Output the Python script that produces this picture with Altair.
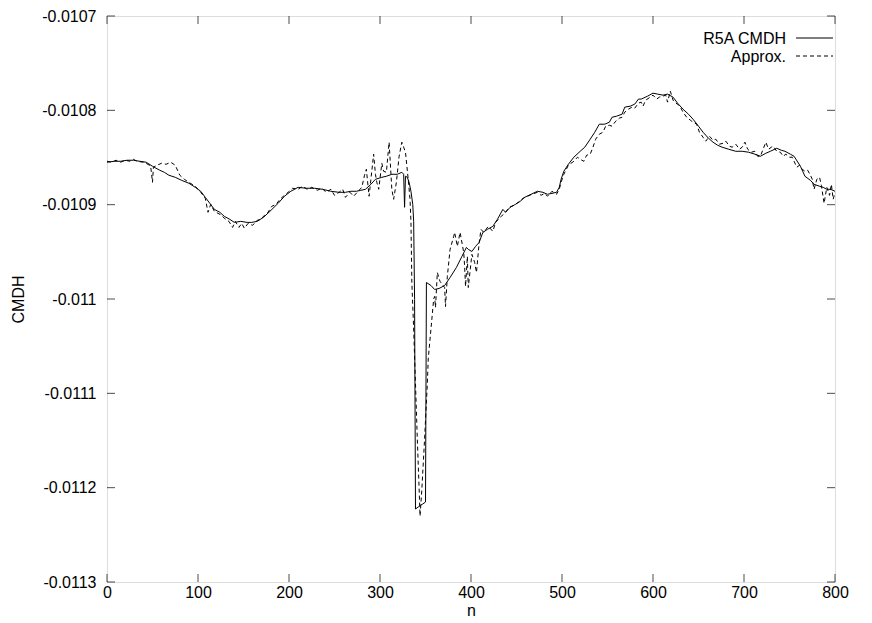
import altair as alt
import pandas as pd

series_names = ["R5A CMDH", "Approx."]

cmdh_n = [0, 8, 15, 22, 29, 36, 43, 50, 58, 63, 68, 75, 82, 90, 97, 103, 108, 113, 118, 124,
          129, 135, 140, 147, 154, 159, 165, 172, 179, 188, 195, 202, 210, 219, 228, 237, 246, 255, 262, 268,
          274, 279, 284, 290, 295, 302, 307, 313, 319, 324, 326, 327, 328, 330, 332, 334, 336, 337, 338, 339,
          342, 345, 347, 350, 351, 356, 360, 365, 371, 377, 384, 390, 395, 397, 401, 405, 409, 413, 418, 424,
          429, 435, 438, 443, 449, 454, 459, 466, 473, 479, 484, 489, 494, 497, 499, 502, 507, 513, 520, 525,
          531, 536, 541, 547, 552, 555, 560, 566, 569, 575, 580, 584, 587, 594, 600, 605, 611, 616, 622, 627,
          633, 639, 644, 650, 655, 661, 666, 671, 676, 683, 691, 698, 705, 712, 718, 724, 729, 736, 741, 745,
          751, 755, 762, 767, 773, 777, 783, 787, 791, 795, 800]
cmdh_v = [-0.0108550, -0.0108540, -0.0108540, -0.0108529, -0.0108529, -0.0108540, -0.0108550, -0.0108593, -0.0108635, -0.0108657,
          -0.0108688, -0.0108710, -0.0108742, -0.0108773, -0.0108816, -0.0108858, -0.0108922, -0.0108986, -0.0109050, -0.0109081,
          -0.0109124, -0.0109156, -0.0109188, -0.0109177, -0.0109188, -0.0109188, -0.0109177, -0.0109134, -0.0109071, -0.0108986,
          -0.0108911, -0.0108858, -0.0108816, -0.0108826, -0.0108826, -0.0108837, -0.0108858, -0.0108869, -0.0108869, -0.0108858,
          -0.0108858, -0.0108848, -0.0108837, -0.0108784, -0.0108731, -0.0108710, -0.0108699, -0.0108678, -0.0108678, -0.0108657,
          -0.0108678, -0.0109028, -0.0108699, -0.0108710, -0.0108763, -0.0108858, -0.0108996, -0.0109177, -0.0110005, -0.0112226,
          -0.0112205, -0.0112184, -0.0112173, -0.0112152, -0.0109825, -0.0109857, -0.0109899, -0.0109888, -0.0109857, -0.0109772,
          -0.0109665, -0.0109549, -0.0109453, -0.0109474, -0.0109496, -0.0109442, -0.0109400, -0.0109294, -0.0109262, -0.0109230,
          -0.0109156, -0.0109050, -0.0109081, -0.0109028, -0.0108996, -0.0108965, -0.0108922, -0.0108890, -0.0108858, -0.0108869,
          -0.0108890, -0.0108880, -0.0108869, -0.0108816, -0.0108731, -0.0108646, -0.0108572, -0.0108497, -0.0108434, -0.0108391,
          -0.0108306, -0.0108232, -0.0108147, -0.0108147, -0.0108126, -0.0108073, -0.0108062, -0.0108041, -0.0107966, -0.0107956,
          -0.0107934, -0.0107881, -0.0107881, -0.0107850, -0.0107818, -0.0107828, -0.0107839, -0.0107828, -0.0107860, -0.0107924,
          -0.0107988, -0.0108041, -0.0108094, -0.0108168, -0.0108232, -0.0108296, -0.0108338, -0.0108370, -0.0108391, -0.0108412,
          -0.0108434, -0.0108434, -0.0108444, -0.0108465, -0.0108487, -0.0108455, -0.0108434, -0.0108402, -0.0108423, -0.0108434,
          -0.0108465, -0.0108487, -0.0108593, -0.0108699, -0.0108742, -0.0108784, -0.0108805, -0.0108816, -0.0108837, -0.0108837,
          -0.0108858]

approx_n = [0, 5, 10, 15, 20, 25, 29, 33, 40, 45, 48, 50, 51, 55, 60, 65, 70, 75, 80, 85,
            90, 97, 103, 108, 111, 114, 118, 122, 126, 129, 134, 138, 141, 145, 148, 151, 155, 160, 165, 169,
            173, 177, 181, 186, 190, 195, 199, 204, 210, 215, 220, 225, 231, 236, 241, 246, 250, 255, 259, 262,
            267, 271, 276, 280, 283, 285, 288, 290, 293, 295, 296.5, 298.6, 302, 304, 307, 310, 313, 315, 318, 321,
            324, 326, 328, 331, 333, 334, 335, 337, 339, 341, 343, 344, 346, 349, 352, 353, 356, 359, 360, 361,
            363, 366, 371, 372, 374, 377, 381, 382, 385, 388, 392, 393, 394, 396, 397, 401, 404, 406, 409, 411,
            414, 419, 424, 427, 432, 437, 442, 447, 452, 457, 462, 467, 473, 477, 481, 484, 489, 494, 497, 499,
            502, 507, 513, 517, 520, 524, 527, 531, 534, 537, 541, 545, 548, 552, 555, 559, 563, 566, 569, 573,
            577, 580, 584, 587, 589, 592, 597, 600, 604, 607, 611, 614, 616, 619, 622, 625, 627, 630, 633, 637,
            641, 644, 648, 651, 655, 658, 662, 666, 669, 673, 677, 680, 684, 687, 691, 695, 698, 701, 704, 708,
            712, 715, 718, 721, 724, 727, 730, 732, 736, 740, 743, 746, 750, 753, 755, 758, 761, 764, 767, 770,
            773, 775, 777, 780, 783, 785, 788, 791, 794, 796, 798, 800]
approx_v = [-0.0108540, -0.0108550, -0.0108529, -0.0108550, -0.0108529, -0.0108540, -0.0108519, -0.0108540, -0.0108550, -0.0108572,
            -0.0108593, -0.0108763, -0.0108603, -0.0108582, -0.0108561, -0.0108572, -0.0108550, -0.0108582, -0.0108688, -0.0108731,
            -0.0108763, -0.0108805, -0.0108869, -0.0108933, -0.0109081, -0.0108996, -0.0109071, -0.0109092, -0.0109113, -0.0109145,
            -0.0109177, -0.0109241, -0.0109177, -0.0109241, -0.0109198, -0.0109251, -0.0109198, -0.0109219, -0.0109166, -0.0109156,
            -0.0109113, -0.0109081, -0.0109018, -0.0108996, -0.0108943, -0.0108901, -0.0108869, -0.0108826, -0.0108837, -0.0108805,
            -0.0108837, -0.0108816, -0.0108848, -0.0108826, -0.0108869, -0.0108837, -0.0108901, -0.0108869, -0.0108837, -0.0108922,
            -0.0108869, -0.0108911, -0.0108858, -0.0108816, -0.0108688, -0.0108625, -0.0108911, -0.0108731, -0.0108465, -0.0108678,
            -0.0108763, -0.0108837, -0.0108561, -0.0108646, -0.0108657, -0.0108338, -0.0108837, -0.0108943, -0.0108763, -0.0108487,
            -0.0108338, -0.0108391, -0.0108444, -0.0108731, -0.0108943, -0.0109177, -0.0109825, -0.0110318, -0.0110901, -0.0111484,
            -0.0112014, -0.0112301, -0.0112014, -0.0111484, -0.0110901, -0.0110636, -0.0110318, -0.0110000, -0.0109973, -0.0110090,
            -0.0109719, -0.0109814, -0.0109878, -0.0110080, -0.0109761, -0.0109474, -0.0109336, -0.0109294, -0.0109442, -0.0109294,
            -0.0109506, -0.0109655, -0.0109867, -0.0109549, -0.0109878, -0.0109527, -0.0109612, -0.0109719, -0.0109400, -0.0109262,
            -0.0109294, -0.0109230, -0.0109283, -0.0109188, -0.0109134, -0.0109092, -0.0109028, -0.0109007, -0.0108975, -0.0108933,
            -0.0108911, -0.0108890, -0.0108869, -0.0108901, -0.0108880, -0.0108911, -0.0108858, -0.0108890, -0.0108837, -0.0108763,
            -0.0108678, -0.0108582, -0.0108540, -0.0108497, -0.0108519, -0.0108540, -0.0108476, -0.0108465, -0.0108391, -0.0108306,
            -0.0108253, -0.0108232, -0.0108168, -0.0108158, -0.0108168, -0.0108115, -0.0108083, -0.0108073, -0.0108019, -0.0107988,
            -0.0107966, -0.0107977, -0.0107924, -0.0107913, -0.0107956, -0.0107892, -0.0107860, -0.0107839, -0.0107881, -0.0107860,
            -0.0107850, -0.0107839, -0.0107913, -0.0107796, -0.0107892, -0.0107924, -0.0107934, -0.0107966, -0.0108019, -0.0108073,
            -0.0108104, -0.0108126, -0.0108147, -0.0108232, -0.0108285, -0.0108327, -0.0108274, -0.0108317, -0.0108306, -0.0108359,
            -0.0108349, -0.0108327, -0.0108380, -0.0108391, -0.0108359, -0.0108412, -0.0108391, -0.0108338, -0.0108412, -0.0108444,
            -0.0108434, -0.0108487, -0.0108487, -0.0108412, -0.0108338, -0.0108412, -0.0108391, -0.0108380, -0.0108434, -0.0108444,
            -0.0108487, -0.0108465, -0.0108497, -0.0108497, -0.0108540, -0.0108603, -0.0108582, -0.0108625, -0.0108646, -0.0108635,
            -0.0108688, -0.0108731, -0.0108837, -0.0108731, -0.0108710, -0.0108795, -0.0108986, -0.0108816, -0.0108901, -0.0108784,
            -0.0108943, -0.0108869]

x_ticks = [0, 100, 200, 300, 400, 500, 600, 700, 800]
y_ticks = [-0.0113, -0.0112, -0.0111, -0.011, -0.0109, -0.0108, -0.0107]

FONT = "Liberation Sans"
FS = 16
W, H = 728, 566

xscale = alt.Scale(domain=[0, 800], nice=False, zero=False)
yscale = alt.Scale(domain=[-0.0113, -0.0107], nice=False, zero=False)

df_c = pd.DataFrame({"n": cmdh_n, "v": cmdh_v})
df_a = pd.DataFrame({"n": approx_n, "v": approx_v})

x_enc = alt.X("n:Q", scale=xscale, axis=alt.Axis(
    values=x_ticks, title="n", ticks=False, domain=False, grid=False,
    labelFontSize=FS, labelFont=FONT, labelColor="black", labelPadding=2,
    labelFlush=False, labelOverlap=False,
    titleFont=FONT, titleFontSize=FS, titleFontWeight="normal", titleColor="black",
    titleX=W / 2, titleY=33, titleBaseline="alphabetic", titleAlign="center"))
y_enc = alt.Y("v:Q", scale=yscale, axis=alt.Axis(
    values=y_ticks, title="CMDH", ticks=False, domain=False, grid=False,
    labelExpr="replace(format(datum.value, '.4~f'), '\u2212', '-')",
    labelFontSize=FS, labelFont=FONT, labelColor="black", labelPadding=11,
    labelFlush=False, labelOverlap=False,
    titleFont=FONT, titleFontSize=FS, titleFontWeight="normal", titleColor="black",
    titleAngle=270, titleX=-89, titleY=H / 2, titleBaseline="middle", titleAlign="center"))

line_c = alt.Chart(df_c).mark_line(color="black", strokeWidth=1).encode(x=x_enc, y=y_enc)
line_a = alt.Chart(df_a).mark_line(color="black", strokeWidth=1, strokeDash=[4, 3]).encode(
    x=alt.X("n:Q", scale=xscale), y=alt.Y("v:Q", scale=yscale))

df_xt = pd.DataFrame({"n": x_ticks})
df_yt = pd.DataFrame({"v": y_ticks})
tick_bottom = alt.Chart(df_xt).mark_tick(orient="vertical", size=8, thickness=1, color="black", yOffset=-4).encode(
    x=alt.X("n:Q", scale=xscale), y=alt.datum(-0.0113, scale=yscale))
tick_top = alt.Chart(df_xt).mark_tick(orient="vertical", size=8, thickness=1, color="black", yOffset=4).encode(
    x=alt.X("n:Q", scale=xscale), y=alt.datum(-0.0107))
tick_left = alt.Chart(df_yt).mark_tick(orient="horizontal", size=8, thickness=1, color="black", xOffset=4).encode(
    y=alt.Y("v:Q", scale=yscale), x=alt.datum(0))
tick_right = alt.Chart(df_yt).mark_tick(orient="horizontal", size=8, thickness=1, color="black", xOffset=-4).encode(
    y=alt.Y("v:Q", scale=yscale), x=alt.datum(800))

leg_rows = []
for i, name in enumerate(series_names):
    ly = 22 + 18 * i
    df_l = pd.DataFrame({"label": [name]})
    txt = alt.Chart(df_l).mark_text(align="right", baseline="middle", font=FONT, fontSize=FS, color="black", dy=1).encode(
        text="label:N", x=alt.value(679), y=alt.value(ly))
    rule = alt.Chart(df_l).mark_rule(color="black", strokeWidth=1, strokeDash=[1, 0] if i == 0 else [4, 3]).encode(
        x=alt.value(689), x2=alt.value(726), y=alt.value(ly))
    leg_rows += [txt, rule]

chart = alt.layer(line_c, line_a, tick_bottom, tick_top, tick_left, tick_right, *leg_rows).properties(
    width=W, height=H,
    padding={"left": 99, "top": 8, "right": 20, "bottom": 40},
    autosize=alt.AutoSizeParams(type="none"),
).configure_view(stroke="black", strokeWidth=1).configure(background="white")

chart.save("out.html", embed_options={"renderer": "svg", "actions": False})
